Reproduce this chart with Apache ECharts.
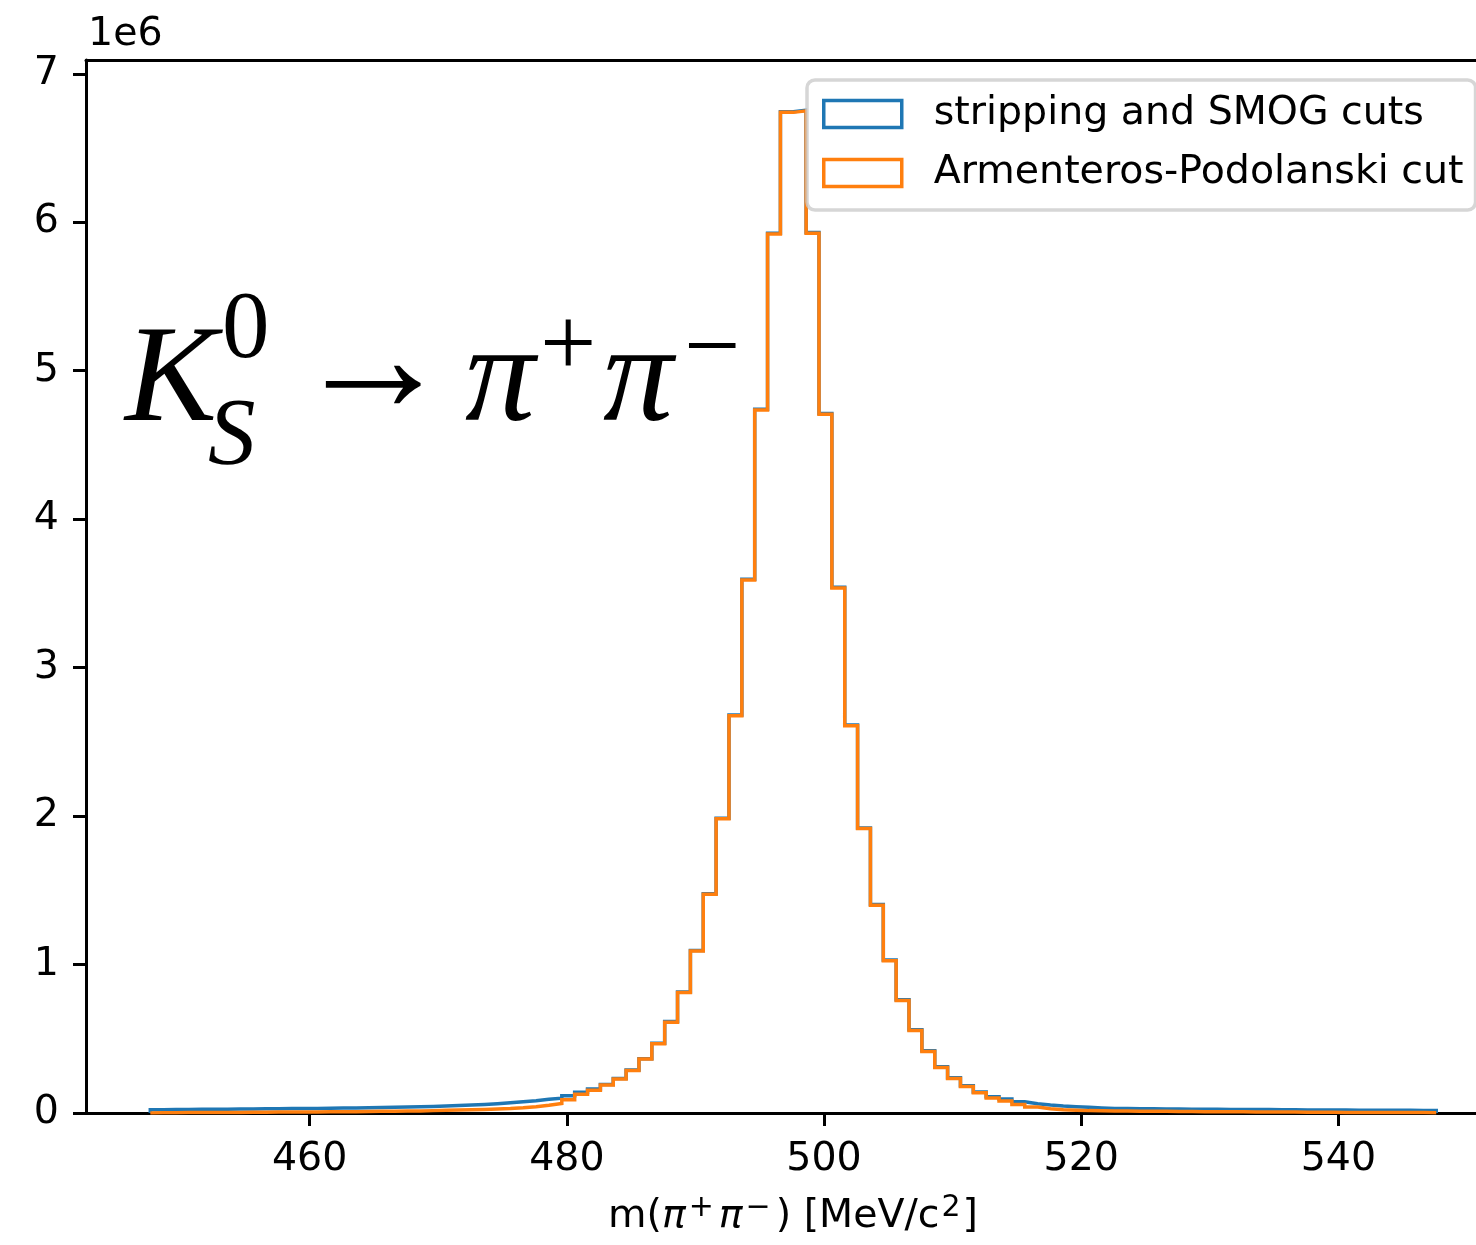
<!DOCTYPE html>
<html>
<head>
<meta charset="utf-8">
<script src="https://cdn.jsdelivr.net/npm/echarts@6/dist/echarts.min.js"></script>
<style>
html,body{margin:0;padding:0;background:#fff;}
#chart{width:1476px;height:1245px;}
</style>
</head>
<body>
<div id="chart"></div>
<script>
// Histogram binning (MeV/c^2): 100 bins of 1 MeV starting at 447.61
const binStart = 447.61;
const binWidth = 1.0;
const xTickValues = [460, 480, 500, 520, 540];
const yTickValues = [0, 1, 2, 3, 4, 5, 6, 7];
const seriesNames = ["stripping and SMOG cuts", "Armenteros-Podolanski cut"];

// counts per bin, in units of 1e6
const strippingCounts = [
  0.022, 0.023, 0.024, 0.025, 0.025, 0.026, 0.027, 0.027, 0.028, 0.029,
  0.030, 0.031, 0.031, 0.032, 0.033, 0.034, 0.035, 0.037, 0.038, 0.040,
  0.042, 0.044, 0.047, 0.050, 0.054, 0.058, 0.063, 0.069, 0.076, 0.083,
  0.092, 0.100, 0.117, 0.139, 0.162, 0.192, 0.233, 0.290, 0.366, 0.470,
  0.616, 0.815, 1.095, 1.476, 1.985, 2.680, 3.595, 4.740, 5.925, 6.745,
  6.755, 5.930, 4.712, 3.542, 2.614, 1.920, 1.404, 1.030, 0.762, 0.560,
  0.420, 0.312, 0.238, 0.183, 0.142, 0.110, 0.095, 0.076, 0.063, 0.054,
  0.047, 0.042, 0.038, 0.034, 0.031, 0.030, 0.029, 0.028, 0.027, 0.027,
  0.026, 0.025, 0.025, 0.024, 0.024, 0.023, 0.023, 0.022, 0.022, 0.021,
  0.021, 0.020, 0.020, 0.019, 0.019, 0.019, 0.018, 0.018, 0.017, 0.017
];
const armenterosCounts = [
  0.002, 0.002, 0.003, 0.003, 0.003, 0.004, 0.004, 0.005, 0.005, 0.006,
  0.006, 0.007, 0.007, 0.008, 0.008, 0.009, 0.010, 0.011, 0.012, 0.013,
  0.014, 0.016, 0.018, 0.020, 0.022, 0.024, 0.027, 0.030, 0.035, 0.042,
  0.052, 0.064, 0.090, 0.126, 0.153, 0.188, 0.229, 0.287, 0.363, 0.466,
  0.612, 0.812, 1.092, 1.473, 1.982, 2.676, 3.590, 4.735, 5.920, 6.740,
  6.750, 5.925, 4.707, 3.537, 2.609, 1.916, 1.400, 1.026, 0.757, 0.555,
  0.415, 0.307, 0.232, 0.178, 0.136, 0.101, 0.080, 0.058, 0.040, 0.029,
  0.022, 0.019, 0.016, 0.015, 0.013, 0.013, 0.012, 0.011, 0.011, 0.010,
  0.010, 0.009, 0.009, 0.008, 0.008, 0.007, 0.007, 0.006, 0.006, 0.005,
  0.005, 0.005, 0.004, 0.004, 0.004, 0.003, 0.003, 0.003, 0.003, 0.002
];

function stepOutline(vals) {
  const pts = [[binStart, 0]];
  vals.forEach((v, i) => {
    const lo = binStart + i * binWidth;
    pts.push([lo, v], [lo + binWidth, v]);
  });
  pts.push([binStart + vals.length * binWidth, 0]);
  return pts;
}

// visible x range (the right edge of the original axes is cropped off)
const xMin = 442.61;
const xMax = 550.7;
const yMax = 1.05 * Math.max(...strippingCounts, ...armenterosCounts);

const FONT = "DejaVu Sans";
const SERIF = "Liberation Serif";
const FS = 39.5;
const chart = echarts.init(document.getElementById("chart"), null, {renderer: "canvas"});

chart.setOption({
  animation: false,
  backgroundColor: "#fff",
  grid: {left: 86, top: 60, right: 0, height: 1053, containLabel: false},
  xAxis: [
    {
      type: "value", min: xMin, max: xMax,
      axisLine: {show: true, onZero: false, lineStyle: {color: "#000", width: 3}},
      axisTick: {show: true, length: 13, lineStyle: {color: "#000", width: 3}, customValues: xTickValues},
      axisLabel: {show: true, margin: 27, fontSize: FS, fontFamily: FONT, color: "#000", customValues: xTickValues},
      splitLine: {show: false}
    },
    {
      type: "value", min: xMin, max: xMax, position: "top",
      axisLine: {show: true, onZero: false, lineStyle: {color: "#000", width: 3}},
      axisTick: {show: false}, axisLabel: {show: false}, splitLine: {show: false}
    }
  ],
  yAxis: {
    type: "value", min: 0, max: yMax,
    axisLine: {show: true, lineStyle: {color: "#000", width: 3}},
    axisTick: {show: true, length: 13, lineStyle: {color: "#000", width: 3}, customValues: yTickValues},
    axisLabel: {show: true, margin: 27, fontSize: FS, fontFamily: FONT, color: "#000", customValues: yTickValues},
    splitLine: {show: false}
  },
  legend: {
    show: true,
    left: 807, top: 80,
    orient: "vertical",
    itemWidth: 78, itemHeight: 27, itemGap: 13,
    padding: [11, 12, 14, 15],
    backgroundColor: "rgba(255,255,255,0.8)",
    borderColor: "rgba(204,204,204,0.8)",
    borderWidth: 3.5,
    borderRadius: 8,
    textStyle: {fontSize: FS, fontFamily: FONT, color: "#000", lineHeight: 40, padding: [6, 0, 0, 27]},
    data: [
      {name: seriesNames[0], icon: "rect", itemStyle: {color: "#fff", borderColor: "#1f77b4", borderWidth: 3.5}},
      {name: seriesNames[1], icon: "rect", itemStyle: {color: "#fff", borderColor: "#ff7f0e", borderWidth: 3.5}}
    ],
    z: 10
  },
  series: [
    {
      name: seriesNames[0], type: "line", data: stepOutline(strippingCounts),
      showSymbol: false, symbol: "none", color: "#1f77b4",
      lineStyle: {color: "#1f77b4", width: 3.5, join: "miter"}, z: 2
    },
    {
      name: seriesNames[1], type: "line", data: stepOutline(armenterosCounts),
      showSymbol: false, symbol: "none", color: "#ff7f0e",
      lineStyle: {color: "#ff7f0e", width: 3.5, join: "miter"}, z: 3
    }
  ],
  graphic: [
    {type: "text", left: 88, top: 15, style: {text: "1e6", fontSize: FS, fontFamily: FONT, fill: "#000"}},
    {type: "text", x: 125, y: 453, style: {text: "K", fontSize: 138, fontFamily: SERIF, fontStyle: "italic", fill: "#000", verticalAlign: "bottom"}},
    {type: "text", x: 208, y: 487, style: {text: "S", fontSize: 95, fontFamily: SERIF, fontStyle: "italic", fill: "#000", verticalAlign: "bottom"}},
    {type: "text", x: 222, y: 380, style: {text: "0", fontSize: 95, fontFamily: SERIF, fill: "#000", verticalAlign: "bottom"}},
    {type: "text", x: 293, y: 449, style: {text: "→", fontSize: 160, fontFamily: SERIF, fill: "#000", verticalAlign: "bottom"}},
    {type: "text", x: 465, y: 453, style: {text: "π", fontSize: 140, fontFamily: SERIF, fontStyle: "italic", fill: "#000", verticalAlign: "bottom"}},
    {type: "text", x: 540, y: 400, style: {text: "+", fontSize: 100, fontFamily: SERIF, fill: "#000", verticalAlign: "bottom"}},
    {type: "text", x: 603, y: 453, style: {text: "π", fontSize: 140, fontFamily: SERIF, fontStyle: "italic", fill: "#000", verticalAlign: "bottom"}},
    {type: "text", x: 684, y: 403, style: {text: "−", fontSize: 100, fontFamily: SERIF, fill: "#000", verticalAlign: "bottom"}},
    {type: "text", x: 793, y: 1217, style: {
      text: "{n|m(}{p|π}{s|+}{p|π}{s|−}{n|) [MeV/c}{t|2}{n|]}",
      align: "center", verticalAlign: "middle",
      rich: {
        n: {fontSize: FS, fontFamily: FONT, fill: "#000", lineHeight: 48},
        p: {fontSize: FS, fontFamily: FONT, fontStyle: "italic", fill: "#000", lineHeight: 48},
        s: {fontSize: 30, fontFamily: FONT, fill: "#000", verticalAlign: "top", lineHeight: 30, padding: [0, 5, 0, 3]},
        t: {fontSize: 30, fontFamily: FONT, fill: "#000", verticalAlign: "top", lineHeight: 30, padding: [0, 2, 0, 2]}
      }
    }}
  ]
});
</script>
</body>
</html>
